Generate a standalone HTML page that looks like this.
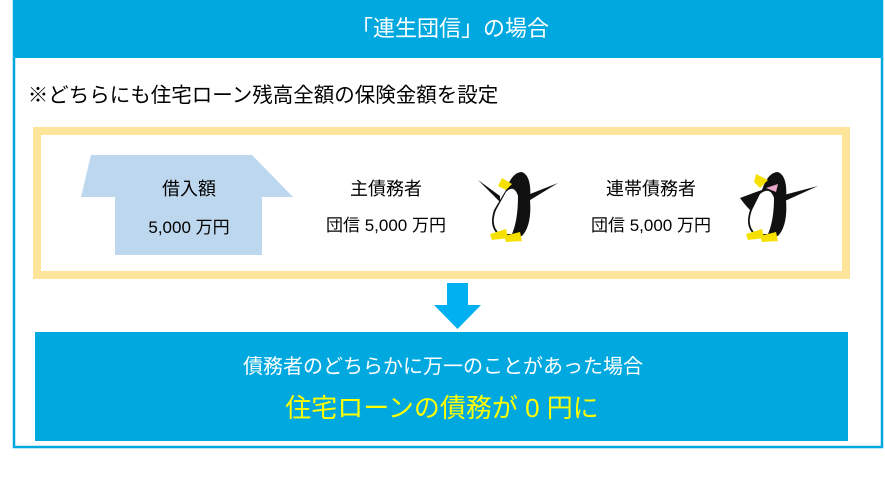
<!DOCTYPE html>
<html><head><meta charset="utf-8"><style>
html,body{margin:0;padding:0;background:#fff;}
body{width:885px;height:487px;position:relative;overflow:hidden;font-family:"Liberation Sans","Noto Sans CJK JP",sans-serif;}
.t{position:absolute;white-space:nowrap;text-align:center;transform:translateX(-50%);line-height:1;}
</style></head><body>
<svg width="885" height="487" style="position:absolute;left:0;top:0">
<rect x="14" y="1" width="868" height="446" fill="#fff" stroke="#00a8e0" stroke-width="2.5"/>
<rect x="13" y="0" width="870" height="58" fill="#00a8e0"/>
<rect x="37" y="131" width="809" height="144" fill="#fff" stroke="#ffe599" stroke-width="8"/>
<polygon points="91,155 252,155 293,197 262,197 262,255 115,255 115,197 81,197" fill="#bdd7ee"/>
<rect x="447" y="283" width="21" height="23" fill="#00b0f0"/>
<polygon points="434,305 481,305 457.5,329" fill="#00b0f0"/>
<rect x="35" y="332" width="813" height="109" fill="#00a8e0"/>
<!-- penguin 1 -->
<g>
<path d="M478,180 L500,196 L500,202 Z" fill="#111"/>
<path d="M558,183 L525,196 L522,205 Z" fill="#111"/>
<path d="M506,190 Q512,172 522,172 Q532,176 530,200 Q532,225 522,236 L500,236 Q488,228 494,210 Q500,200 506,190 Z" fill="#111"/>
<path d="M506,192 Q514,184 518,196 Q518,220 512,234 L500,234 Q490,226 496,210 Z" fill="#fff"/>
<path d="M502,178 L512,184 L506,190 L498,186 Z" fill="#f5e000"/>
<path d="M490,234 L506,229 L508,238 L492,240 Z" fill="#f5e000"/>
<path d="M504,236 L520,232 L522,241 L506,242 Z" fill="#f5e000"/>
</g>
<!-- penguin 2 -->
<g>
<path d="M818,186 L780,196 L776,205 Z" fill="#111"/>
<path d="M762,190 Q768,172 778,172 Q788,176 786,200 Q788,225 778,236 L756,236 Q744,228 750,210 Q745,205 740,198 L756,192 Z" fill="#111"/>
<path d="M760,194 Q770,186 774,198 Q774,220 768,234 L756,234 Q746,226 752,210 Z" fill="#fff"/>
<path d="M756,174 L768,180 L760,188 L754,182 Z" fill="#f5e000"/>
<path d="M766,188 L778,184 L776,192 Z" fill="#e8a8c8"/>
<path d="M746,234 L762,229 L764,238 L748,240 Z" fill="#f5e000"/>
<path d="M760,236 L776,232 L778,241 L762,242 Z" fill="#f5e000"/>
</g>
</svg>
<div class="t" style="left:450px;top:18px;font-size:22px;color:#fff">「連生団信」の場合</div>
<div class="t" style="left:263px;top:86px;font-size:20.5px;color:#000">※どちらにも住宅ローン残高全額の保険金額を設定</div>
<div class="t" style="left:189px;top:180px;font-size:18px;color:#000">借入額</div>
<div class="t" style="left:189px;top:219px;font-size:17px;color:#000">5,000 万円</div>
<div class="t" style="left:386px;top:180px;font-size:18px;color:#000">主債務者</div>
<div class="t" style="left:386px;top:217px;font-size:17px;color:#000">団信 5,000 万円</div>
<div class="t" style="left:651px;top:180px;font-size:18px;color:#000">連帯債務者</div>
<div class="t" style="left:651px;top:217px;font-size:17px;color:#000">団信 5,000 万円</div>
<div class="t" style="left:443px;top:357px;font-size:20px;color:#fff">債務者のどちらかに万一のことがあった場合</div>
<div class="t" style="left:442px;top:395px;font-size:26px;color:#ffff00">住宅ローンの債務が 0 円に</div>
</body></html>
